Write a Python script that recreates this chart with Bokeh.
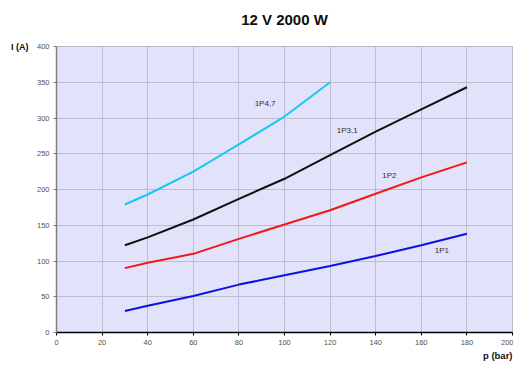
from bokeh.plotting import figure
from bokeh.models import Label, FixedTicker, Range1d, Title, LinearAxis
from bokeh.embed import file_html
from bokeh.resources import INLINE

p_bar = [30, 40, 60, 80, 100, 120, 140, 160, 180]
i_1p1 = [30, 37.5, 51, 67, 80, 93, 107, 122, 138]
i_1p2 = [90, 97.5, 110, 131, 151, 171, 194, 217, 238]
i_1p31 = [122, 133, 158, 187, 215, 248, 281, 312, 343]
p_1p47 = [30, 40, 60, 80, 100, 120]
i_1p47 = [179, 193, 225, 263, 302, 350]

series = [
    ("1P1", p_bar, i_1p1, "#1010E0", 169, 114),
    ("1P2", p_bar, i_1p2, "#F01818", 146, 220),
    ("1P3,1", p_bar, i_1p31, "#101010", 127.5, 283),
    ("1P4,7", p_1p47, i_1p47, "#18C8F0", 91.5, 320),
]

x_ticks = [0, 20, 40, 60, 80, 100, 120, 140, 160, 180, 200]
y_ticks = [0, 50, 100, 150, 200, 250, 300, 350, 400]

FONT = "Liberation Sans"
HAS_ALIGN = "axis_label_align" in LinearAxis.properties()

p = figure(width=513, height=365, output_backend="svg", toolbar_location=None,
           x_range=Range1d(0, 200), y_range=Range1d(0, 400),
           min_border_left=56, min_border_right=1, min_border_top=46, min_border_bottom=33)
p.background_fill_color = "#E2E2FA"
p.border_fill_color = "white"
p.outline_line_color = "#B8B8C8"

p.xaxis.ticker = FixedTicker(ticks=x_ticks)
p.yaxis.ticker = FixedTicker(ticks=y_ticks)
for ax in (p.xaxis[0], p.yaxis[0]):
    ax.major_label_text_font = FONT
    ax.major_label_text_font_size = "7.5px"
    ax.major_label_text_color = "#505050"
    ax.minor_tick_line_color = None
    ax.major_tick_out = 3
    ax.major_tick_in = 0
p.xaxis.axis_line_color = "#000000"
p.xaxis.axis_line_width = 1.5
p.xaxis.major_tick_line_color = "#000000"
p.yaxis.axis_line_color = "#808080"
p.yaxis.axis_line_width = 1.5
p.yaxis.major_tick_line_color = "#808080"
p.xaxis.major_label_standoff = 4
p.yaxis.major_label_standoff = 4


def label_axis(text, bounds, size, standoff, orientation):
    a = LinearAxis(ticker=FixedTicker(ticks=[]), axis_label=text, bounds=bounds)
    a.axis_line_color = None
    a.major_tick_line_color = None
    a.minor_tick_line_color = None
    a.major_tick_out = 0
    a.major_tick_in = 0
    a.major_label_text_font_size = "0px"
    a.major_label_standoff = 0
    a.axis_label_orientation = orientation
    a.axis_label_text_font = FONT
    a.axis_label_text_font_size = size
    a.axis_label_text_font_style = "bold"
    a.axis_label_text_color = "#101010"
    a.axis_label_standoff = standoff
    return a

# chart title: an invisible axis above the frame, label centred over p = 0..195
title_axis = label_axis("12 V 2000 W", (0, 195), "15px", 19, "horizontal")
p.add_layout(title_axis, "above")

# "I (A)": horizontal label at the top end of an invisible extra left axis
ya = label_axis("I (A)", (0, 387), "9px", 5, "horizontal")
if HAS_ALIGN:
    ya.axis_label_align = "end"
p.add_layout(ya, "left")

xt = Title(text="p (bar)", align="right", text_font=FONT, text_font_size="9.5px",
           text_font_style="bold", text_color="#101010", standoff=0)
p.add_layout(xt, "below")

p.xgrid.grid_line_color = "#BDBDD0"
p.ygrid.grid_line_color = "#BDBDD0"

for name, xs, ys, col, lx, ly in series:
    p.line(xs, ys, line_color=col, line_width=2)
    p.add_layout(Label(x=lx, y=ly, text=name, text_font=FONT, text_font_size="8px",
                       text_color="#303030", text_align="center", text_baseline="middle"))

open("out.html", "w").write(file_html(p, INLINE))
